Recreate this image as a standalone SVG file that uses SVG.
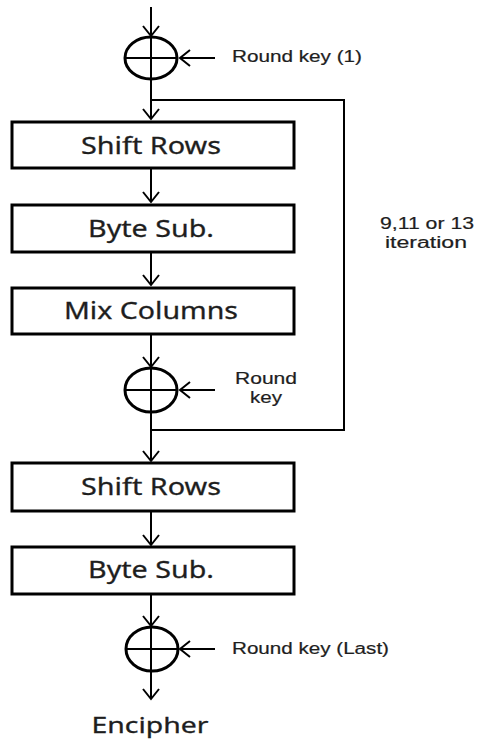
<svg xmlns="http://www.w3.org/2000/svg" width="478" height="740" viewBox="0 0 478 740">
<style>
.box{fill:#fff;stroke:#000;stroke-width:3}
.xor{fill:none;stroke:#000;stroke-width:3}
.ln{fill:none;stroke:#000;stroke-width:2}
.big{font-family:"Noto Sans","Open Sans",sans-serif;font-size:24px;fill:#1e1e1e;text-anchor:middle;stroke:#1e1e1e;stroke-width:0.3}
.sm{font-family:"Liberation Sans",Arial,sans-serif;font-size:16px;fill:#1e1e1e;stroke:#1e1e1e;stroke-width:0.2}
</style>
<defs>
<marker id="ah" viewBox="-13 -10 15 20" refX="0" refY="0" markerWidth="15" markerHeight="20" markerUnits="userSpaceOnUse" orient="auto">
<path d="M-10,-8 L0,0 L-10,8" fill="none" stroke="#000" stroke-width="2"/>
</marker>
</defs>
<g id="connectors">
<line class="ln" x1="151" y1="7" x2="151" y2="36" marker-end="url(#ah)"/>
<line class="ln" x1="215" y1="58" x2="180" y2="58" marker-end="url(#ah)"/>
<line class="ln" x1="151" y1="80" x2="151" y2="119" marker-end="url(#ah)"/>
<polyline class="ln" points="151,100 344,100 344,430 151,430"/>
<line class="ln" x1="151" y1="168" x2="151" y2="202" marker-end="url(#ah)"/>
<line class="ln" x1="151" y1="252" x2="151" y2="285" marker-end="url(#ah)"/>
<line class="ln" x1="151" y1="334" x2="151" y2="367" marker-end="url(#ah)"/>
<line class="ln" x1="215" y1="390" x2="180" y2="390" marker-end="url(#ah)"/>
<line class="ln" x1="151" y1="412" x2="151" y2="461" marker-end="url(#ah)"/>
<line class="ln" x1="151" y1="511" x2="151" y2="545" marker-end="url(#ah)"/>
<line class="ln" x1="151" y1="594" x2="151" y2="626" marker-end="url(#ah)"/>
<line class="ln" x1="215" y1="649" x2="180" y2="649" marker-end="url(#ah)"/>
<line class="ln" x1="151" y1="671" x2="151" y2="699" marker-end="url(#ah)"/>
</g>
<g id="xor1">
<ellipse class="xor" cx="151" cy="58" rx="26" ry="21"/>
<line class="ln" x1="125" y1="58" x2="177" y2="58"/>
<line class="ln" x1="151" y1="37" x2="151" y2="79"/>
</g>
<g id="key1"><text class="sm" x="232" y="62" textLength="130" lengthAdjust="spacingAndGlyphs">Round key (1)</text></g>
<g id="shift1"><rect class="box" x="12" y="122" width="282" height="46"/><text class="big" x="151" y="154" textLength="140" lengthAdjust="spacingAndGlyphs">Shift Rows</text></g>
<g id="byte1"><rect class="box" x="12" y="205" width="282" height="47"/><text class="big" x="151" y="237" textLength="126" lengthAdjust="spacingAndGlyphs">Byte Sub.</text></g>
<g id="mix"><rect class="box" x="12" y="288" width="282" height="46"/><text class="big" x="151" y="319" textLength="174" lengthAdjust="spacingAndGlyphs">Mix Columns</text></g>
<g id="iter"><text class="sm" x="427" y="229" text-anchor="middle" textLength="94" lengthAdjust="spacingAndGlyphs">9,11 or 13</text><text class="sm" x="426" y="248" text-anchor="middle" textLength="82" lengthAdjust="spacingAndGlyphs">iteration</text></g>
<g id="xor2">
<ellipse class="xor" cx="151" cy="390" rx="26" ry="22"/>
<line class="ln" x1="125" y1="390" x2="177" y2="390"/>
<line class="ln" x1="151" y1="368" x2="151" y2="412"/>
</g>
<g id="key2"><text class="sm" x="266" y="384" text-anchor="middle" textLength="62" lengthAdjust="spacingAndGlyphs">Round</text><text class="sm" x="266" y="403" text-anchor="middle" textLength="32" lengthAdjust="spacingAndGlyphs">key</text></g>
<g id="shift2"><rect class="box" x="12" y="463" width="282" height="48"/><text class="big" x="151" y="495" textLength="140" lengthAdjust="spacingAndGlyphs">Shift Rows</text></g>
<g id="byte2"><rect class="box" x="12" y="547" width="282" height="47"/><text class="big" x="151" y="578" textLength="126" lengthAdjust="spacingAndGlyphs">Byte Sub.</text></g>
<g id="xor3">
<ellipse class="xor" cx="152" cy="649" rx="26" ry="22"/>
<line class="ln" x1="126" y1="649" x2="178" y2="649"/>
<line class="ln" x1="151" y1="627" x2="151" y2="671"/>
</g>
<g id="keylast"><text class="sm" x="232" y="654" textLength="157" lengthAdjust="spacingAndGlyphs">Round key (Last)</text></g>
<g id="out"><text class="big" x="150" y="733" textLength="117" lengthAdjust="spacingAndGlyphs" style="font-size:22px">Encipher</text></g>
</svg>
